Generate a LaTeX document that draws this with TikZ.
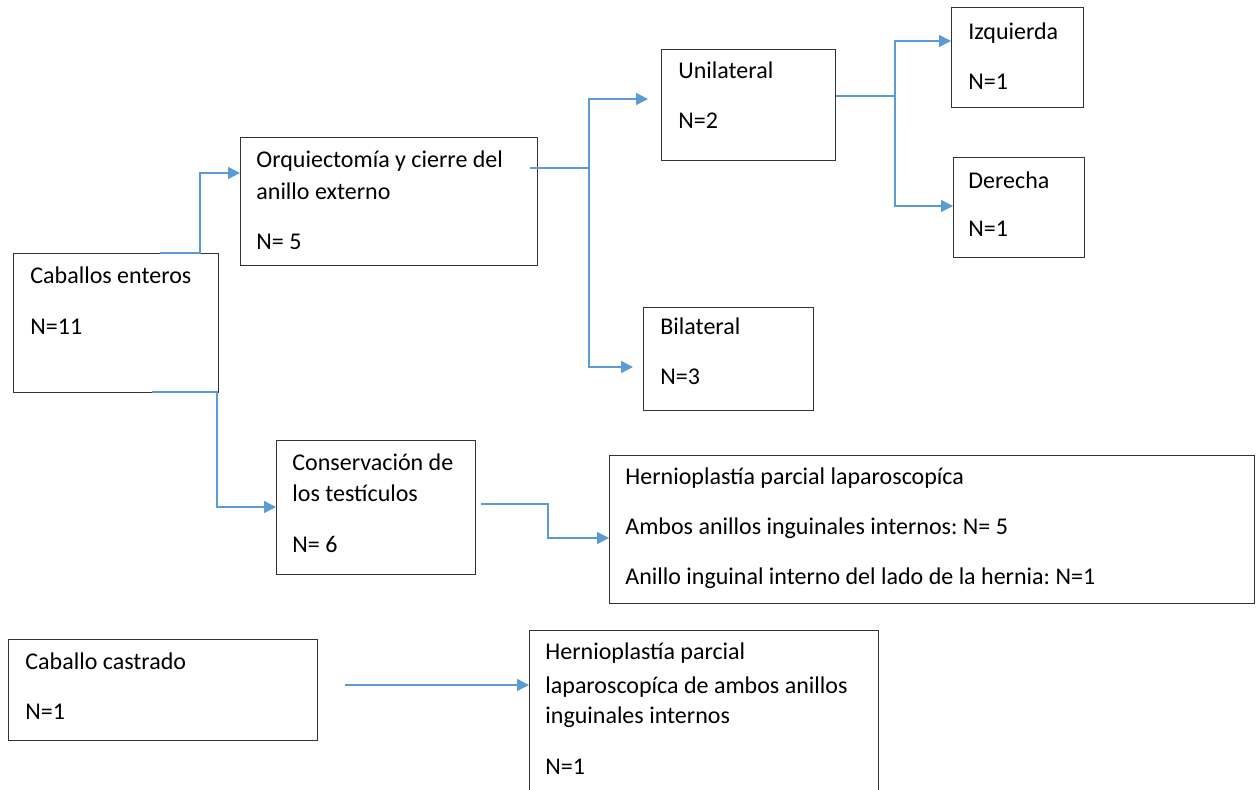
\documentclass[tikz,border=0pt]{standalone}
\usepackage{fontspec}
\setmainfont{Carlito}
\frenchspacing
\usetikzlibrary{arrows.meta}
\definecolor{linkblue}{HTML}{5B9BD5}
\begin{document}
\begin{tikzpicture}[
        x=0.5pt, y=-0.5pt,
        >={Triangle[length=6pt,width=6pt]},
        box/.style={
            rectangle,
            draw=black!80,
            line width=0.6pt,
            anchor=north west,
            inner sep=0pt
        },
        txt/.style={
            anchor=base west,
            inner sep=0pt,
            font=\fontsize{12pt}{14pt}\selectfont
        },
        link/.style={
            ->,
            line width=0.75pt,
            draw=linkblue
        }
    ]

    \useasboundingbox (0,0) rectangle (1256,790);

    % cajas
    \node[box, minimum width=102.5pt, minimum height=69.5pt] (enteros) at (13,253) {};
    \node[box, minimum width=148.5pt, minimum height=64pt] (orqui) at (240,137) {};
    \node[box, minimum width=87pt, minimum height=55.5pt] (uni) at (661,49) {};
    \node[box, minimum width=66pt, minimum height=50pt] (izq) at (951,7) {};
    \node[box, minimum width=65.5pt, minimum height=50pt] (der) at (953,157) {};
    \node[box, minimum width=85pt, minimum height=51.5pt] (bil) at (643,307) {};
    \node[box, minimum width=99.5pt, minimum height=67pt] (cons) at (276,440) {};
    \node[box, minimum width=322.5pt, minimum height=74pt] (hern) at (609,455) {};
    \node[box, minimum width=154.5pt, minimum height=50.5pt] (castr) at (8,639) {};
    \node[box, minimum width=174.5pt, minimum height=85pt] (hamb) at (529,630) {};

    % textos
    \node[txt] (enteros1) at (30,284) {Caballos enteros};
    \node[txt] (enteros2) at (30,335) {N=11};

    \node[txt] (orqui1) at (256,168) {Orquiectomía y cierre del};
    \node[txt] (orqui2) at (256,200) {anillo externo};
    \node[txt] (orqui3) at (256,250) {N= 5};

    \node[txt] (uni1) at (678,79) {Unilateral};
    \node[txt] (uni2) at (678,129) {N=2};

    \node[txt] (izq1) at (968,40) {Izquierda};
    \node[txt] (izq2) at (968,90) {N=1};

    \node[txt] (der1) at (968,189) {Derecha};
    \node[txt] (der2) at (968,237) {N=1};

    \node[txt] (bil1) at (660,335) {Bilateral};
    \node[txt] (bil2) at (660,385) {N=3};

    \node[txt] (cons1) at (292,470) {Conservación de};
    \node[txt] (cons2) at (292,501) {los testículos};
    \node[txt] (cons3) at (292,552) {N= 6};

    \node[txt] (hern1) at (625,484) {Hernioplastía parcial laparoscopíca};
    \node[txt] (hern2) at (625,534) {Ambos anillos inguinales internos: N= 5};
    \node[txt] (hern3) at (625,584) {Anillo inguinal interno del lado de la hernia: N=1};

    \node[txt] (castr1) at (25,669) {Caballo castrado};
    \node[txt] (castr2) at (25,719) {N=1};

    \node[txt] (hamb1) at (545,659) {Hernioplastía parcial};
    \node[txt] (hamb2) at (545,693) {laparoscopíca de ambos anillos};
    \node[txt] (hamb3) at (545,723) {inguinales internos};
    \node[txt] (hamb4) at (545,774) {N=1};

    % conectores
    \coordinate (entTop) at (160,253);
    \draw[link] (entTop) -- (200,253) -- (200,173) -- (orqui.west |- 0,173);

    \coordinate (orqOut) at (530,168);
    \draw[link, shorten >=6.5pt] (orqOut) -- (589,168) |- (uni.west |- 0,99);
    \draw[link, shorten >=5pt] (589,168) |- (bil.west |- 0,367);

    \draw[link] (uni.east |- 0,96) -- (895,96) |- (izq.west |- 0,41);
    \draw[link] (895,96) |- (der.west |- 0,206);

    \coordinate (entBot) at (152,392);
    \draw[link] (entBot) -- (217,392) |- (cons.west |- 0,507);

    \coordinate (consOut) at (481,504);
    \draw[link] (consOut) -- (548,504) |- (hern.west |- 0,538);

    \coordinate (castrOut) at (345,685);
    \draw[link] (castrOut) -- (hamb.west |- 0,685);

\end{tikzpicture}
\end{document}
